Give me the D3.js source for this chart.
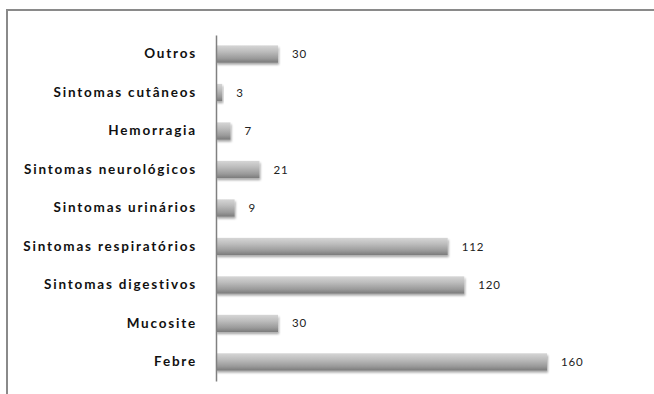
<!DOCTYPE html>
<html>
<head>
<meta charset="utf-8">
<script src="https://cdn.jsdelivr.net/npm/d3@7"></script>
<style>
  html, body { margin: 0; padding: 0; background: #fff; }
  svg { display: block; }
</style>
</head>
<body>
<svg id="chart" width="654" height="394"></svg>
<script>
// Symptom categories, top to bottom, and their counts
const categories = [
  "Outros",
  "Sintomas cutâneos",
  "Hemorragia",
  "Sintomas neurológicos",
  "Sintomas urinários",
  "Sintomas respiratórios",
  "Sintomas digestivos",
  "Mucosite",
  "Febre"
];
const counts = [30, 3, 7, 21, 9, 112, 120, 30, 160];

const svg = d3.select("#chart");

// outer chart frame (only top and left edges fall inside the view)
svg.append("rect")
  .attr("x", 7).attr("y", 10)
  .attr("width", 700).attr("height", 420)
  .attr("fill", "#fff")
  .attr("stroke", "#8a8a8a")
  .attr("stroke-width", 2);

const defs = svg.append("defs");
const grad = defs.append("linearGradient")
  .attr("id", "barGrad").attr("x1", 0).attr("y1", 0).attr("x2", 0).attr("y2", 1);
grad.append("stop").attr("offset", "0%").attr("stop-color", "#d6d6d6");
grad.append("stop").attr("offset", "35%").attr("stop-color", "#bdbdbd");
grad.append("stop").attr("offset", "75%").attr("stop-color", "#9a9a9a");
grad.append("stop").attr("offset", "100%").attr("stop-color", "#7a7a7a");

const shadow = defs.append("filter").attr("id", "shadow")
  .attr("x", "-10%").attr("y", "-30%").attr("width", "130%").attr("height", "180%");
shadow.append("feGaussianBlur").attr("in", "SourceAlpha").attr("stdDeviation", 1.3);
shadow.append("feOffset").attr("dx", 1).attr("dy", 1.5).attr("result", "off");
shadow.append("feComponentTransfer").append("feFuncA").attr("type", "linear").attr("slope", 0.35);
const merge = shadow.append("feMerge");
merge.append("feMergeNode");
merge.append("feMergeNode").attr("in", "SourceGraphic");

const x0 = 216;
const x = d3.scaleLinear().domain([0, 160]).range([x0, 547]);
const y = d3.scaleBand().domain(categories).range([35, 381]).paddingInner(0.55).paddingOuter(0.27);

const rows = categories.map((c, i) => ({ cat: c, val: counts[i] }));

// bars
svg.append("g").selectAll("rect")
  .data(rows)
  .join("rect")
  .attr("x", x0)
  .attr("y", d => y(d.cat))
  .attr("width", d => x(d.val) - x0)
  .attr("height", y.bandwidth())
  .attr("fill", "url(#barGrad)")
  .attr("filter", "url(#shadow)");

// category axis
const axis = d3.axisLeft(y).tickSize(0).tickPadding(19);
const gAxis = svg.append("g").attr("transform", `translate(${x0},0)`).call(axis);
gAxis.select(".domain").attr("stroke", "#808080").attr("stroke-width", 1.5);
gAxis.selectAll("text")
  .attr("font-family", "Lato, 'Open Sans', sans-serif")
  .attr("font-weight", "bold")
  .attr("font-size", "13.5px")
  .attr("letter-spacing", "1.8px")
  .attr("fill", "#111");

// value labels
svg.append("g").selectAll("text")
  .data(rows)
  .join("text")
  .attr("x", d => x(d.val) + 14)
  .attr("y", d => y(d.cat) + y.bandwidth() / 2)
  .attr("dy", "0.35em")
  .attr("font-family", "Lato, 'Open Sans', sans-serif")
  .attr("font-size", "11.5px")
  .attr("letter-spacing", "0.8px")
  .attr("fill", "#222")
  .text(d => d.val);
</script>
</body>
</html>
